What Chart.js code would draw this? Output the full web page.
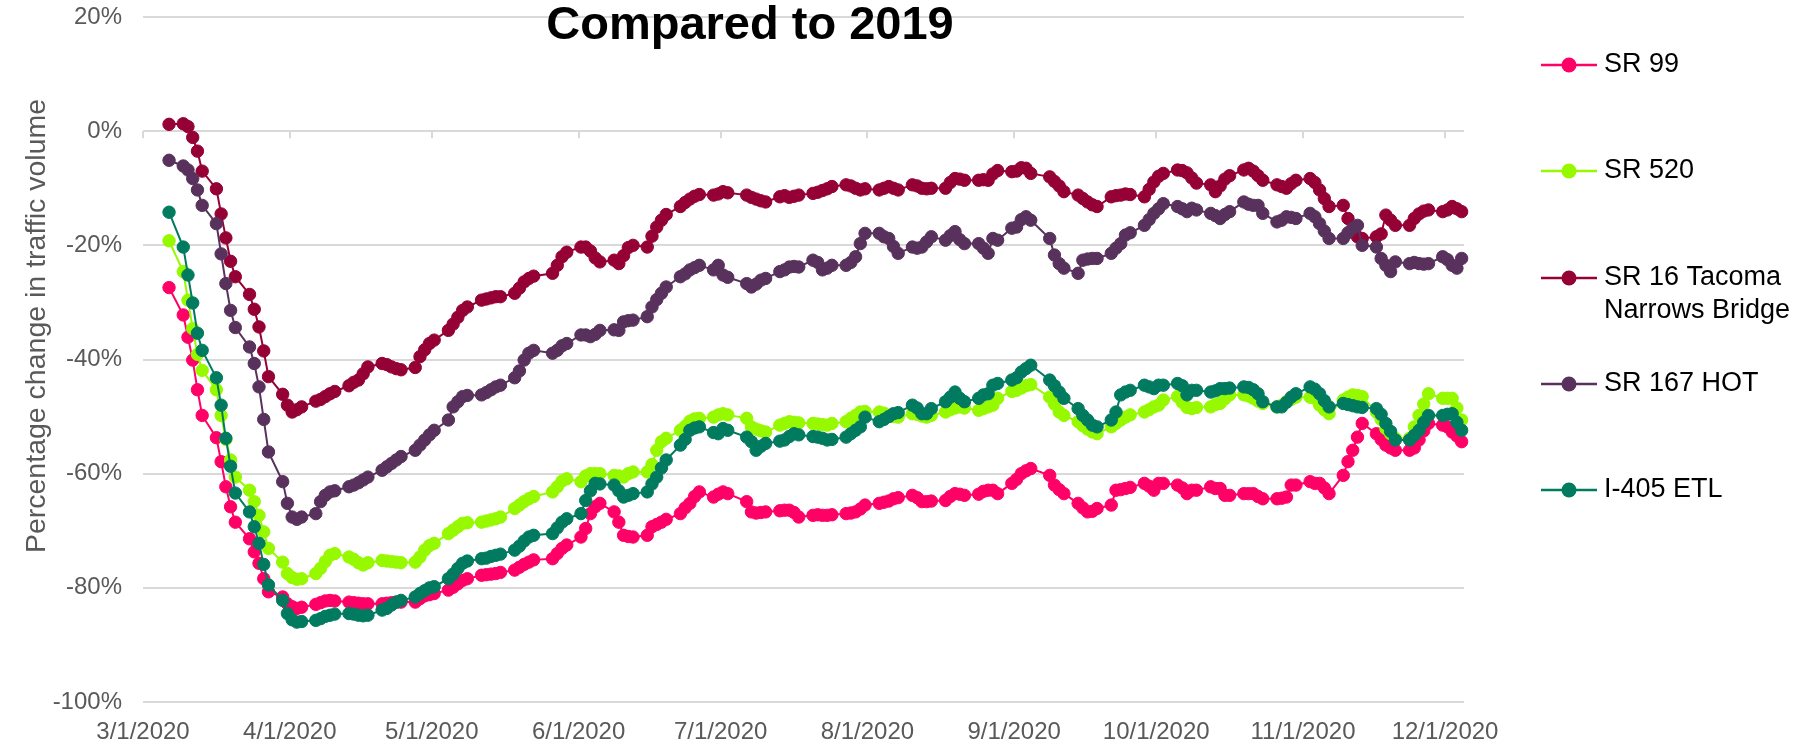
<!DOCTYPE html>
<html>
<head>
<meta charset="utf-8">
<script src="https://cdn.jsdelivr.net/npm/chart.js@4.4.1/dist/chart.umd.min.js"></script>
<style>
  html, body { margin: 0; padding: 0; background: #ffffff; }
  canvas { display: block; }
</style>
</head>
<body>
<canvas id="chart" width="1806" height="746" style="width:1806px;height:746px"></canvas>
<script>
// ---------------- DATA ----------------
const chartTitle = "Compared to 2019";
const yAxisTitle = "Percentage change in traffic volume";
const seriesNames = ["SR 99", "SR 520", "SR 16 Tacoma Narrows Bridge", "SR 167 HOT", "I-405 ETL"];
const xTickLabels = ["3/1/2020","4/1/2020","5/1/2020","6/1/2020","7/1/2020","8/1/2020","9/1/2020","10/1/2020","11/1/2020","12/1/2020"];
const axisStart = "3/1/2020";
const axisEnd = "12/4/2020";

const dates = [
  "3/6/2020","3/9/2020","3/10/2020","3/11/2020","3/12/2020","3/13/2020","3/16/2020","3/17/2020","3/18/2020","3/19/2020","3/20/2020","3/23/2020","3/24/2020","3/25/2020","3/26/2020","3/27/2020","3/30/2020","3/31/2020",
  "4/1/2020","4/2/2020","4/3/2020","4/6/2020","4/7/2020","4/8/2020","4/9/2020","4/10/2020","4/13/2020","4/14/2020","4/15/2020","4/16/2020","4/17/2020","4/20/2020","4/21/2020","4/22/2020","4/23/2020","4/24/2020","4/27/2020","4/28/2020","4/29/2020","4/30/2020",
  "5/1/2020","5/4/2020","5/5/2020","5/6/2020","5/7/2020","5/8/2020","5/11/2020","5/12/2020","5/13/2020","5/14/2020","5/15/2020","5/18/2020","5/19/2020","5/20/2020","5/21/2020","5/22/2020","5/26/2020","5/27/2020","5/28/2020","5/29/2020",
  "6/1/2020","6/2/2020","6/3/2020","6/4/2020","6/5/2020","6/8/2020","6/9/2020","6/10/2020","6/11/2020","6/12/2020","6/15/2020","6/16/2020","6/17/2020","6/18/2020","6/19/2020","6/22/2020","6/23/2020","6/24/2020","6/25/2020","6/26/2020","6/29/2020","6/30/2020",
  "7/1/2020","7/2/2020","7/6/2020","7/7/2020","7/8/2020","7/9/2020","7/10/2020","7/13/2020","7/14/2020","7/15/2020","7/16/2020","7/17/2020","7/20/2020","7/21/2020","7/22/2020","7/23/2020","7/24/2020","7/27/2020","7/28/2020","7/29/2020","7/30/2020","7/31/2020",
  "8/3/2020","8/4/2020","8/5/2020","8/6/2020","8/7/2020","8/10/2020","8/11/2020","8/12/2020","8/13/2020","8/14/2020","8/17/2020","8/18/2020","8/19/2020","8/20/2020","8/21/2020","8/24/2020","8/25/2020","8/26/2020","8/27/2020","8/28/2020","8/31/2020",
  "9/1/2020","9/2/2020","9/3/2020","9/4/2020","9/8/2020","9/9/2020","9/10/2020","9/11/2020","9/14/2020","9/15/2020","9/16/2020","9/17/2020","9/18/2020","9/21/2020","9/22/2020","9/23/2020","9/24/2020","9/25/2020","9/28/2020","9/29/2020","9/30/2020",
  "10/1/2020","10/2/2020","10/5/2020","10/6/2020","10/7/2020","10/8/2020","10/9/2020","10/12/2020","10/13/2020","10/14/2020","10/15/2020","10/16/2020","10/19/2020","10/20/2020","10/21/2020","10/22/2020","10/23/2020","10/26/2020","10/27/2020","10/28/2020","10/29/2020","10/30/2020",
  "11/2/2020","11/3/2020","11/4/2020","11/5/2020","11/6/2020","11/9/2020","11/10/2020","11/11/2020","11/12/2020","11/13/2020","11/16/2020","11/17/2020","11/18/2020","11/19/2020","11/20/2020","11/23/2020","11/24/2020","11/25/2020","11/26/2020","11/27/2020","11/30/2020",
  "12/1/2020","12/2/2020","12/3/2020","12/4/2020"
];

const sr99 = [
  -27.4,-32.2,-36.1,-40.1,-45.3,-49.8,-53.7,-57.9,-62.3,-65.8,-68.5,-71.4,-73.7,-75.7,-78.4,-80.7,-81.6,-82.8,
  -83.3,-83.6,-83.4,-82.9,-82.6,-82.3,-82.2,-82.3,-82.5,-82.6,-82.7,-82.8,-82.8,-82.8,-82.7,-82.6,-82.5,-82.5,-82.5,-81.9,-81.4,-81.2,
  -81.0,-80.4,-79.9,-79.3,-78.7,-78.4,-77.8,-77.7,-77.6,-77.5,-77.3,-76.9,-76.4,-75.9,-75.5,-75.1,-74.9,-74.0,-73.1,-72.5,
  -71.1,-69.6,-67.0,-65.8,-65.2,-66.7,-68.5,-70.8,-71.0,-71.1,-70.8,-69.3,-68.9,-68.5,-68.0,-67.0,-66.0,-65.2,-64.0,-63.2,-64.1,-63.6,
  -63.2,-63.5,-64.9,-66.7,-66.9,-66.8,-66.7,-66.5,-66.4,-66.4,-66.8,-67.6,-67.3,-67.2,-67.3,-67.3,-67.2,-67.0,-66.9,-66.7,-66.2,-65.5,
  -65.2,-65.0,-64.8,-64.4,-64.2,-63.8,-64.2,-64.9,-64.9,-64.8,-64.7,-64.0,-63.5,-63.6,-63.8,-63.6,-63.1,-62.9,-62.9,-63.5,-61.7,
  -61.0,-60.0,-59.5,-59.1,-60.3,-62.0,-62.8,-63.5,-65.2,-66.0,-66.7,-66.6,-66.1,-65.5,-62.9,-62.8,-62.6,-62.4,-61.7,-62.2,-62.9,
  -61.7,-61.7,-62.0,-62.5,-63.5,-62.9,-62.9,-62.3,-62.6,-62.6,-63.8,-63.8,-63.5,-63.5,-63.5,-64.0,-64.4,-64.4,-64.3,-64.1,-62.0,-62.0,
  -61.4,-61.7,-61.7,-62.5,-63.5,-60.3,-57.9,-55.9,-53.6,-51.2,-53.0,-54.0,-55.0,-55.5,-55.9,-55.9,-55.5,-54.1,-52.5,-51.2,-51.5,
  -51.8,-52.7,-53.4,-54.4
];

const sr520 = [
  -19.2,-24.6,-29.6,-34.6,-39.1,-41.9,-45.3,-49.8,-54.0,-57.6,-60.6,-62.9,-64.9,-67.3,-70.2,-73.1,-75.5,-77.5,
  -78.2,-78.5,-78.4,-77.5,-76.6,-75.4,-74.3,-74.0,-74.6,-75.0,-75.6,-76.0,-75.6,-75.2,-75.3,-75.4,-75.5,-75.6,-75.5,-74.6,-73.4,-72.6,
  -72.2,-70.5,-69.9,-69.3,-68.7,-68.6,-68.5,-68.3,-68.1,-67.9,-67.6,-66.1,-65.5,-64.9,-64.4,-64.0,-63.2,-62.3,-61.3,-60.9,
  -61.4,-60.4,-60.0,-60.0,-60.0,-60.3,-60.4,-60.6,-60.0,-59.7,-59.7,-58.4,-55.9,-54.4,-53.8,-52.4,-51.7,-50.8,-50.4,-50.3,-50.1,-49.7,
  -49.5,-49.7,-50.3,-51.8,-52.2,-52.5,-52.7,-51.5,-51.2,-50.9,-51.0,-51.1,-51.2,-51.3,-51.4,-51.5,-51.2,-50.9,-50.3,-49.8,-49.2,-49.1,
  -49.2,-49.4,-49.8,-50.0,-50.1,-49.5,-49.6,-49.9,-50.1,-49.8,-49.2,-48.8,-48.5,-48.3,-48.5,-48.9,-48.6,-48.3,-48.0,-46.8,-45.6,
  -45.4,-45.0,-44.6,-44.4,-46.6,-47.8,-49.2,-49.8,-50.9,-51.6,-52.2,-52.7,-53.0,-51.8,-51.2,-50.6,-50.1,-49.7,-49.2,-48.8,-48.3,
  -48.0,-47.1,-46.5,-47.5,-48.4,-48.6,-48.4,-48.3,-47.9,-47.7,-46.9,-46.2,-46.2,-46.4,-46.8,-47.3,-47.7,-48.3,-48.0,-47.4,-47.0,-46.6,
  -46.6,-46.8,-48.0,-48.8,-49.5,-47.1,-46.6,-46.2,-46.3,-46.5,-49.2,-50.5,-52.1,-53.0,-53.8,-53.8,-51.8,-49.8,-47.8,-46.0,-46.8,
  -46.8,-46.8,-48.5,-50.6
];

const sr16 = [
  1.2,1.3,0.8,-1.1,-3.5,-7.0,-10.1,-14.5,-18.7,-22.8,-25.5,-28.6,-31.2,-34.3,-38.5,-43.0,-46.1,-48.0,
  -49.2,-48.8,-48.3,-47.3,-47.0,-46.5,-46.0,-45.6,-44.6,-44.0,-43.6,-42.5,-41.3,-40.7,-40.9,-41.3,-41.6,-41.8,-41.4,-39.5,-38.3,-37.2,
  -36.6,-34.9,-33.8,-32.6,-31.4,-30.8,-29.6,-29.4,-29.2,-29.0,-29.0,-28.4,-27.5,-26.4,-25.8,-25.4,-24.9,-23.5,-22.0,-21.2,
  -20.3,-20.3,-21.0,-22.2,-22.9,-22.6,-23.2,-21.8,-20.4,-20.0,-20.3,-18.4,-16.8,-15.6,-14.6,-13.2,-12.5,-11.9,-11.4,-11.1,-11.2,-11.0,
  -10.6,-10.8,-11.2,-11.6,-11.9,-12.2,-12.4,-11.5,-11.3,-11.6,-11.4,-11.2,-10.9,-10.7,-10.4,-10.1,-9.7,-9.4,-9.6,-10.0,-10.3,-10.1,
  -10.3,-10.0,-9.7,-10.0,-10.3,-9.4,-9.6,-10.0,-10.1,-10.0,-10.0,-9.0,-8.3,-8.4,-8.6,-8.6,-8.5,-8.6,-7.5,-6.9,-7.1,
  -7.0,-6.4,-6.5,-7.4,-8.0,-8.8,-9.6,-10.6,-11.2,-11.8,-12.4,-12.9,-13.2,-11.5,-11.3,-11.2,-11.0,-11.1,-11.5,-10.2,-8.9,
  -7.9,-7.4,-6.8,-6.9,-7.3,-8.2,-9.1,-9.4,-10.6,-9.6,-8.4,-7.8,-6.8,-6.5,-7.0,-7.8,-8.6,-9.4,-9.7,-10.0,-9.2,-8.6,
  -8.3,-9.0,-10.3,-11.8,-13.2,-13.0,-15.3,-17.5,-18.5,-18.8,-18.5,-18.0,-14.7,-15.6,-16.5,-16.5,-15.3,-14.5,-14.0,-13.8,-14.1,
  -13.8,-13.2,-13.6,-14.1
];

const sr167 = [
  -5.1,-6.1,-6.8,-8.3,-10.3,-13.0,-16.2,-21.5,-26.7,-31.4,-34.4,-37.8,-40.7,-44.8,-50.5,-56.2,-61.4,-65.2,
  -67.6,-68.0,-67.6,-67.0,-64.9,-63.8,-63.2,-63.0,-62.3,-62.0,-61.6,-61.1,-60.6,-59.4,-58.8,-58.2,-57.6,-57.0,-55.9,-55.0,-54.1,-53.2,
  -52.4,-50.6,-48.3,-47.4,-46.5,-46.3,-46.2,-45.8,-45.3,-44.8,-44.5,-43.2,-42.0,-40.1,-38.9,-38.4,-38.9,-38.4,-37.6,-37.2,
  -35.7,-35.7,-36.0,-35.6,-34.9,-34.8,-34.9,-33.4,-33.2,-33.1,-32.5,-30.8,-29.5,-28.4,-27.3,-25.5,-25.0,-24.3,-23.9,-23.5,-24.3,-23.5,
  -25.2,-25.6,-26.7,-27.3,-26.8,-26.1,-25.8,-24.6,-24.3,-23.8,-23.7,-23.8,-22.6,-23.0,-24.3,-24.0,-23.5,-23.5,-23.0,-22.0,-19.7,-17.9,
  -17.9,-18.5,-18.8,-20.2,-21.4,-20.3,-20.5,-20.3,-19.4,-18.5,-19.1,-18.3,-17.6,-19.0,-19.7,-19.7,-20.5,-21.4,-18.8,-19.1,-17.0,
  -16.8,-15.5,-15.0,-15.6,-18.8,-21.7,-23.2,-24.0,-24.9,-22.6,-22.4,-22.3,-22.3,-21.4,-20.5,-19.7,-18.2,-17.8,-16.5,-15.5,-14.4,
  -13.6,-12.7,-13.2,-13.6,-14.1,-13.5,-13.8,-14.4,-14.8,-15.3,-14.6,-14.1,-12.4,-12.8,-13.0,-13.0,-14.4,-15.9,-15.6,-15.0,-15.1,-15.3,
  -14.4,-15.0,-16.2,-17.5,-18.8,-18.8,-17.8,-17.0,-16.5,-20.0,-20.3,-22.3,-23.5,-24.6,-22.9,-23.2,-23.0,-23.2,-23.3,-23.2,-22.0,
  -22.5,-23.5,-24.0,-22.3
];

const i405 = [
  -14.2,-20.3,-25.2,-30.1,-35.4,-38.4,-43.2,-48.0,-53.8,-58.7,-63.4,-66.7,-69.3,-72.2,-75.9,-79.5,-82.2,-84.5,
  -85.6,-86.0,-85.9,-85.7,-85.4,-85.0,-84.8,-84.6,-84.5,-84.6,-84.8,-84.9,-84.8,-83.9,-83.6,-83.0,-82.5,-82.2,-81.6,-81.0,-80.5,-80.0,
  -79.8,-78.4,-77.6,-76.6,-75.7,-75.3,-74.9,-74.8,-74.5,-74.3,-74.1,-73.4,-72.7,-71.8,-71.1,-70.8,-70.5,-69.5,-68.5,-67.9,
  -67.0,-64.7,-63.0,-61.7,-61.8,-62.0,-63.0,-64.1,-63.8,-63.5,-63.2,-61.8,-60.6,-59.0,-57.6,-55.0,-54.0,-52.4,-52.0,-51.8,-52.8,-53.0,
  -52.1,-52.4,-53.6,-54.4,-55.9,-55.2,-54.7,-54.3,-54.1,-53.5,-53.0,-53.2,-53.5,-53.6,-53.8,-54.1,-54.0,-53.6,-53.0,-52.4,-51.8,-50.1,
  -50.9,-50.5,-50.0,-49.5,-49.3,-48.0,-48.5,-49.5,-49.5,-48.6,-47.4,-46.6,-45.7,-46.8,-47.4,-46.8,-46.2,-46.0,-44.5,-44.2,-43.6,
  -43.2,-42.2,-41.6,-41.0,-43.6,-44.6,-45.7,-46.8,-48.6,-49.8,-50.6,-51.5,-51.8,-50.6,-49.2,-46.2,-45.7,-45.4,-44.5,-44.8,-45.1,
  -44.5,-44.5,-44.2,-44.6,-46.2,-45.4,-45.4,-45.7,-45.5,-45.1,-45.1,-45.0,-44.8,-44.9,-45.3,-46.0,-47.4,-48.3,-48.3,-47.5,-46.6,-46.0,
  -44.8,-45.2,-46.0,-47.2,-48.3,-47.7,-47.9,-48.1,-48.3,-48.4,-48.6,-49.6,-51.2,-52.6,-54.1,-54.1,-53.3,-52.4,-51.0,-49.8,-49.8,
  -49.6,-49.5,-51.0,-52.4
];

const seriesColors = ["#FF0066", "#96F900", "#950035", "#58315D", "#007B5F"];
const seriesValues = [sr99, sr520, sr16, sr167, i405];

// ---------------- HELPERS ----------------
function parseDay(s) {
  const p = s.split("/").map(Number);
  return Date.UTC(p[2], p[0] - 1, p[1]);
}
const DAY = 86400000;
const t0 = parseDay(axisStart);
function dayIndex(s) { return Math.round((parseDay(s) - t0) / DAY); }
const lastIndex = dayIndex(axisEnd);
const FONT = '"Liberation Sans", Arial, Helvetica, sans-serif';

// ---------------- DECORATION PLUGIN ----------------
const excelDecor = {
  id: "excelDecor",
  beforeDatasetsDraw(chart) {
    const { ctx, scales } = chart;
    const x = scales.x, y = scales.y;
    const y0 = y.getPixelForValue(0);
    ctx.save();
    ctx.strokeStyle = "#d9d9d9";
    ctx.lineWidth = 2;
    xTickLabels.forEach(lbl => {
      const px = Math.round(x.getPixelForValue(dayIndex(lbl) - 0.5));
      ctx.beginPath();
      ctx.moveTo(px, y0);
      ctx.lineTo(px, y0 + 7);
      ctx.stroke();
    });
    ctx.restore();
  },
  afterDraw(chart) {
    const { ctx } = chart;
    ctx.save();
    // Title
    ctx.font = "bold 47px " + FONT;
    ctx.fillStyle = "#000000";
    ctx.textAlign = "center";
    ctx.textBaseline = "alphabetic";
    ctx.fillText(chartTitle, 750, 39);
    // Y axis title
    ctx.save();
    ctx.translate(37, 326);
    ctx.rotate(-Math.PI / 2);
    ctx.font = "28.5px " + FONT;
    ctx.fillStyle = "#595959";
    ctx.textAlign = "center";
    ctx.textBaseline = "middle";
    ctx.fillText(yAxisTitle, 0, 0);
    ctx.restore();
    // Legend
    const lx1 = 1541, lx2 = 1597, mx = 1569, tx = 1604;
    const rowY = [65, 171, 278, 384, 490];
    const maxW = 1800 - tx;
    ctx.font = "27px " + FONT;
    ctx.textAlign = "left";
    ctx.textBaseline = "middle";
    chart.data.datasets.forEach((ds, k) => {
      const yy = rowY[k];
      ctx.strokeStyle = ds.borderColor;
      ctx.lineWidth = 2.5;
      ctx.beginPath();
      ctx.moveTo(lx1, yy);
      ctx.lineTo(lx2, yy);
      ctx.stroke();
      ctx.fillStyle = ds.borderColor;
      ctx.beginPath();
      ctx.arc(mx, yy, 7.5, 0, Math.PI * 2);
      ctx.fill();
      const words = ds.label.split(" ");
      const lines = [];
      let cur = "";
      words.forEach(w => {
        const test = cur ? cur + " " + w : w;
        if (ctx.measureText(test).width > maxW && cur) { lines.push(cur); cur = w; }
        else cur = test;
      });
      if (cur) lines.push(cur);
      ctx.fillStyle = "#000000";
      lines.forEach((ln, j) => ctx.fillText(ln, tx, yy + j * 33));
    });
    ctx.restore();
  }
};

// ---------------- CHART ----------------
const datasets = seriesNames.map((name, k) => ({
  label: name,
  data: dates.map((d, j) => ({ x: dayIndex(d), y: seriesValues[k][j] })),
  borderColor: seriesColors[k],
  backgroundColor: seriesColors[k],
  pointBackgroundColor: seriesColors[k],
  pointBorderColor: seriesColors[k],
  borderWidth: 2,
  pointRadius: 6.2,
  pointBorderWidth: 1,
  tension: 0,
  fill: false,
  clip: false,
  order: seriesNames.length - k
}));

new Chart(document.getElementById("chart"), {
  type: "line",
  data: { datasets },
  options: {
    responsive: false,
    animation: false,
    devicePixelRatio: 1,
    layout: { padding: { top: 17, right: 342, bottom: 0, left: 0 } },
    plugins: {
      legend: { display: false },
      title: { display: false },
      tooltip: { enabled: false }
    },
    scales: {
      x: {
        type: "linear",
        min: -0.5,
        max: lastIndex + 0.5,
        afterBuildTicks: s => { s.ticks = xTickLabels.map(l => ({ value: dayIndex(l) - 0.5 })); },
        afterFit: s => { s.height = 44; s.paddingLeft = 0; s.paddingRight = 0; },
        ticks: {
          autoSkip: false,
          maxRotation: 0,
          minRotation: 0,
          padding: 8,
          color: "#595959",
          font: { size: 24, family: FONT },
          callback: v => {
            const lbl = xTickLabels.find(l => dayIndex(l) - 0.5 === v);
            return lbl || "";
          }
        },
        grid: { display: false },
        border: { display: false }
      },
      y: {
        min: -100,
        max: 20,
        afterFit: s => { s.width = 143; s.paddingTop = 0; s.paddingBottom = 0; },
        ticks: {
          stepSize: 20,
          padding: 21,
          color: "#595959",
          font: { size: 24, family: FONT },
          callback: v => v + "%"
        },
        grid: { color: "#d9d9d9", lineWidth: 2, drawTicks: false },
        border: { display: false }
      }
    }
  },
  plugins: [excelDecor]
});
</script>
</body>
</html>
